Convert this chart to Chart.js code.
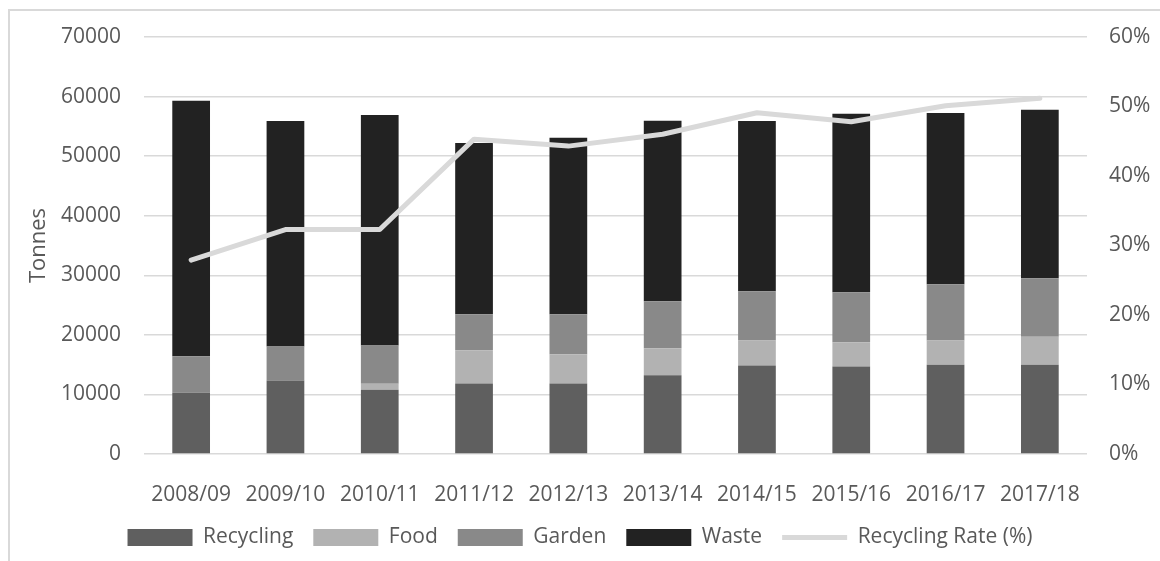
<!DOCTYPE html>
<html>
<head>
<meta charset="utf-8">
<script src="https://cdn.jsdelivr.net/npm/chart.js@4.4.0/dist/chart.umd.min.js"></script>
<style>
  html, body { margin: 0; padding: 0; background: #ffffff; overflow: hidden; }
  #wrap { position: relative; width: 1160px; height: 561px; }
  #frame { position: absolute; left: 8px; top: 9px; width: 1300px; height: 700px; border: 2px solid #d9d9d9; box-sizing: border-box; }
  canvas { position: absolute; left: 0; top: 0; }
</style>
</head>
<body>
<div id="wrap">
  <div id="frame"></div>
  <canvas id="c" width="1160" height="561"></canvas>
</div>
<script>
const categories = ['2008/09', '2009/10', '2010/11', '2011/12', '2012/13', '2013/14', '2014/15', '2015/16', '2016/17', '2017/18'];
const recycling = [10300, 12350, 10800, 11850, 11850, 13200, 14850, 14700, 15000, 15000];
const food      = [0, 0, 1000, 5550, 4900, 4550, 4200, 4050, 4050, 4700];
const garden    = [6100, 5700, 6400, 6050, 6700, 7900, 8250, 8400, 9450, 9800];
const waste     = [42900, 37850, 38700, 28750, 29650, 30300, 28600, 29950, 28750, 28300];
const recyclingRate = [27.9, 32.3, 32.3, 45.3, 44.3, 46.0, 49.1, 47.8, 50.1, 51.2];
const leftTicks = { min: 0, max: 70000, step: 10000 };
const rightTicks = { min: 0, max: 60, step: 10 };

const FONT = "'Open Sans', 'DejaVu Sans', sans-serif";
const TXT = '#595959';

function barSet(label, data, color) {
  return {
    type: 'bar', label: label, data: data, backgroundColor: color, borderWidth: 0,
    stack: 's', yAxisID: 'y', order: 1, pointStyle: 'rect',
    barPercentage: 0.4, categoryPercentage: 1.0
  };
}

new Chart(document.getElementById('c'), {
  data: {
    labels: categories,
    datasets: [
      barSet('Recycling', recycling, '#5f5f5f'),
      barSet('Food', food, '#b2b2b2'),
      barSet('Garden', garden, '#898989'),
      barSet('Waste', waste, '#222222'),
      {
        type: 'line', label: 'Recycling Rate (%)', data: recyclingRate, yAxisID: 'y1',
        borderColor: '#d9d9d9', backgroundColor: '#d9d9d9', borderWidth: 5,
        pointRadius: 0, pointHoverRadius: 0, tension: 0, order: 0,
        borderCapStyle: 'round', borderJoinStyle: 'round', pointStyle: 'line', fill: false
      }
    ]
  },
  options: {
    responsive: false,
    animation: false,
    devicePixelRatio: 1,
    layout: { padding: { top: 37, bottom: 3, left: 0, right: 0 } },
    plugins: {
      tooltip: { enabled: false },
      legend: {
        position: 'bottom',
        labels: {
          usePointStyle: true,
          pointStyleWidth: 65,
          boxWidth: 65,
          boxHeight: 17,
          padding: 20,
          color: TXT,
          font: { family: FONT, size: 21 },
          sort: (a, b) => a.datasetIndex - b.datasetIndex
        }
      }
    },
    scales: {
      x: {
        stacked: true,
        grid: { display: false, drawTicks: false },
        border: { display: false },
        ticks: { color: TXT, font: { family: FONT, size: 21 }, padding: 28, maxRotation: 0, autoSkip: false },
        afterFit: (s) => { s.height = 53; }
      },
      y: {
        stacked: true, position: 'left',
        min: leftTicks.min, max: leftTicks.max,
        grid: { color: '#d9d9d9', lineWidth: 1.5, drawTicks: false },
        border: { display: false },
        ticks: { stepSize: leftTicks.step, color: TXT, font: { family: FONT, size: 21 }, padding: 23, callback: (v) => String(v) },
        title: { display: true, text: 'Tonnes', color: TXT, font: { family: FONT, size: 22 }, padding: { top: 26, bottom: 0 } },
        afterFit: (s) => { s.width = 144; }
      },
      y1: {
        position: 'right',
        min: rightTicks.min, max: rightTicks.max,
        grid: { display: false, drawTicks: false },
        border: { display: false },
        ticks: { stepSize: rightTicks.step, color: TXT, font: { family: FONT, size: 21 }, padding: 22, callback: (v) => v + '%' },
        afterFit: (s) => { s.width = 73; }
      }
    }
  }
});
</script>
</body>
</html>
